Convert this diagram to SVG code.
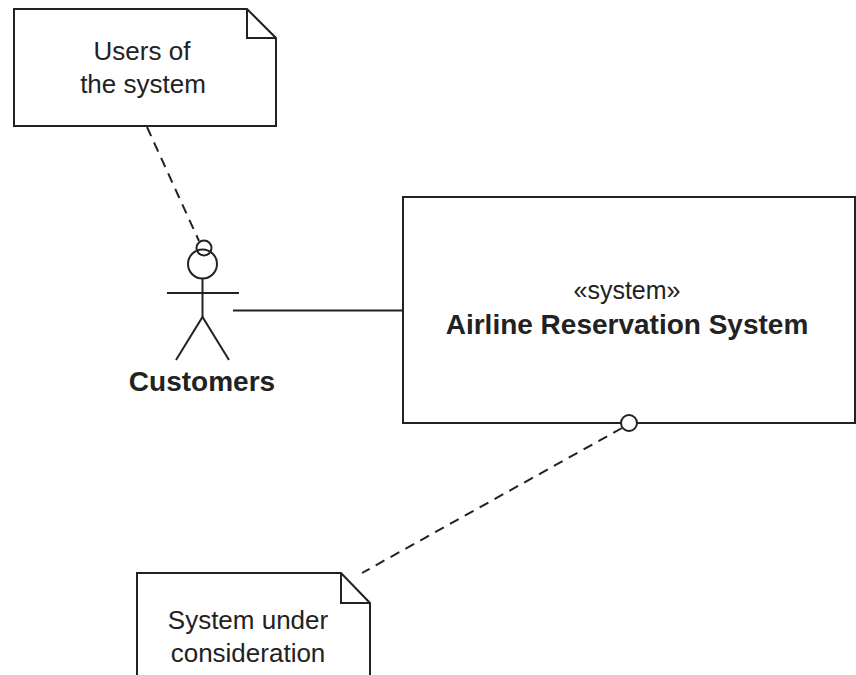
<svg xmlns="http://www.w3.org/2000/svg" width="856" height="675" viewBox="0 0 856 675">
<style>
.sh{fill:#fff;stroke:#222;stroke-width:2}
.ln{fill:none;stroke:#222;stroke-width:2}
.ds{fill:none;stroke:#222;stroke-width:2;stroke-dasharray:10 7}
.t{font-family:"Liberation Sans",Arial,sans-serif;font-size:26px;fill:#222;text-anchor:middle}
.b{font-family:"Liberation Sans",Arial,sans-serif;font-size:28px;font-weight:bold;fill:#222;text-anchor:middle}
</style>
<rect width="856" height="675" fill="#fff"/>
<g id="connectors">
<line class="ds" x1="147" y1="127" x2="199" y2="241"/>
<line class="ln" x1="233" y1="310.5" x2="404" y2="310.5"/>
<line class="ds" x1="622" y1="428" x2="362" y2="573"/>
</g>
<g id="note-users">
<path class="sh" d="M14,9 H247 L276,38 V126 H14 Z"/>
<path class="ln" d="M247,9 V38 H276"/>
<text class="t" x="142" y="60">Users of</text>
<text class="t" x="143" y="93">the system</text>
</g>
<g id="actor-customers">
<circle class="sh" cx="204" cy="248" r="7.5"/>
<circle class="ln" cx="202.5" cy="264" r="14.5"/>
<line class="ln" x1="202.5" y1="278.5" x2="202.5" y2="317"/>
<line class="ln" x1="167" y1="293" x2="239" y2="293"/>
<path class="ln" d="M176,360 L202.5,317 L229,360"/>
<text class="b" x="202" y="391">Customers</text>
</g>
<g id="system">
<rect class="sh" x="403" y="197" width="452" height="226"/>
<text class="t" x="627" y="299" style="font-size:25px">«system»</text>
<text class="b" x="627" y="334">Airline Reservation System</text>
<circle class="sh" cx="629" cy="423" r="8"/>
</g>
<g id="note-system">
<path class="sh" d="M137,573 H341 L370,603 V680 H137 Z"/>
<path class="ln" d="M341,573 V603 H370"/>
<text class="t" x="248" y="629">System under</text>
<text class="t" x="248" y="662">consideration</text>
</g>
</svg>
